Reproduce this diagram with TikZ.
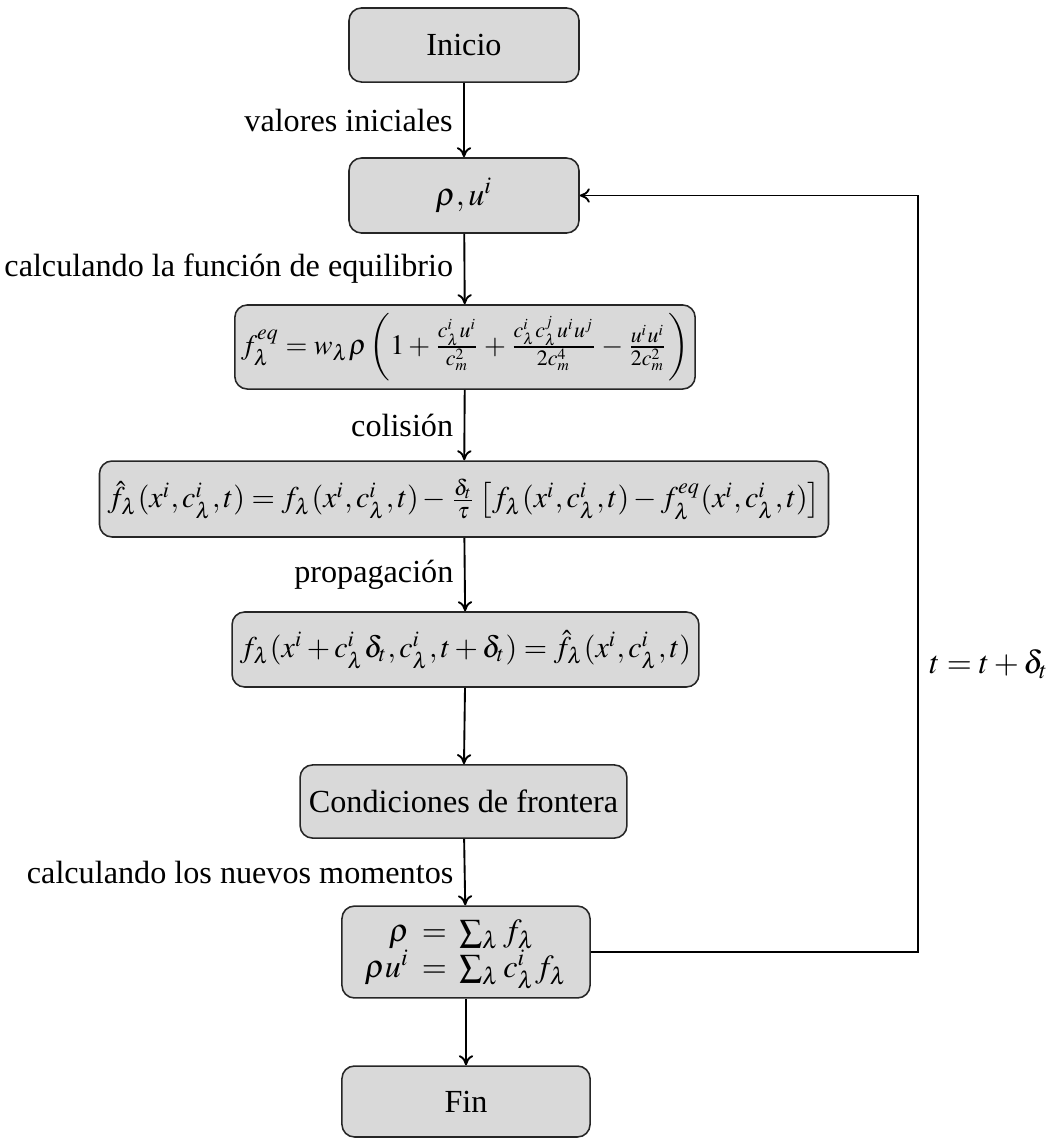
\documentclass[tikz,border=0pt]{standalone}
\usepackage{mathptmx}
\usepackage[no-math]{fontspec}
\setmainfont{Liberation Serif}
\usetikzlibrary{calc, arrows.meta}

\begin{document}
\begin{tikzpicture}[x=0.32pt, y=-0.32pt,
  font=\fontsize{10.3}{12.4}\selectfont,
  stepbox/.style={draw=black!85, line width=0.5pt, rounded corners=4pt,
    fill=gray!30, align=center, inner sep=2pt},
  flow/.style={-{To[length=3.2pt, width=4.6pt]}, line width=0.6pt}]
\useasboundingbox (0,0) rectangle (1047,1138);

% process boxes, top to bottom
\node[stepbox, minimum width=73.6pt, minimum height=23.7pt] (start) at (464,45) {Inicio};
\node[stepbox, minimum width=73.6pt, minimum height=24pt] (rho) at (464,195.5) {$\rho, u^i$};
\node[stepbox, minimum width=146.9pt, minimum height=26.9pt, font=\fontsize{9}{11}\selectfont] (feq) at (465,347)
  {$f^{eq}_\lambda = w_\lambda\rho\left(1+\frac{c^i_\lambda u^i}{c_m^2}+\frac{c^i_\lambda c^j_\lambda u^i u^j}{2c_m^4}-\frac{u^i u^i}{2c_m^2}\right)$};
\node[stepbox, minimum width=233.3pt, minimum height=24.3pt, font=\fontsize{9.6}{11}\selectfont] (coll) at (464,499)
  {$\hat f_\lambda(x^i,c^i_\lambda,t) = f_\lambda(x^i,c^i_\lambda,t)-\frac{\delta_t}{\tau}\left[f_\lambda(x^i,c^i_\lambda,t)-f^{eq}_\lambda(x^i,c^i_\lambda,t)\right]$};
\node[stepbox, minimum width=149.4pt, minimum height=24pt, font=\fontsize{9.6}{11}\selectfont] (prop) at (465.5,649.5)
  {$f_\lambda(x^i+c^i_\lambda\delta_t,c^i_\lambda,t+\delta_t) = \hat f_\lambda(x^i,c^i_\lambda,t)$};
\node[stepbox, minimum width=104.6pt, minimum height=23.4pt] (cond) at (463.5,801.5) {Condiciones de frontera};
\node[stepbox, minimum width=79.4pt, minimum height=29.4pt] (mom) at (466,952)
  {\setlength{\arraycolsep}{2pt}$\begin{array}{rcl}\rho & = & \sum_\lambda f_\lambda\\[-1pt] \rho u^i & = & \sum_\lambda c^i_\lambda f_\lambda\end{array}$};
\node[stepbox, minimum width=79.4pt, minimum height=22.7pt] (fin) at (466,1101.5) {Fin};

% connectors
\draw[flow] (start) -- node[left] {valores iniciales} (rho);
\draw[flow] (rho) -- node[left] {calculando la función de equilibrio} (feq);
\draw[flow] (feq) -- node[left] {colisión} (coll);
\draw[flow] (coll) -- node[left] {propagación} (prop);
\draw[flow] (prop) -- (cond);
\draw[flow] (cond) -- node[left] {calculando los nuevos momentos} (mom);
\draw[flow] (mom) -- (fin);

% time-step loop back to the macroscopic fields
\coordinate (loopx) at (918,0);
\draw[flow] (mom.east) -- (mom.east -| loopx)
  -- node[pos=0.38, right] {$t = t + \delta_t$} (rho.east -| loopx)
  -- (rho.east);
\end{tikzpicture}
\end{document}
